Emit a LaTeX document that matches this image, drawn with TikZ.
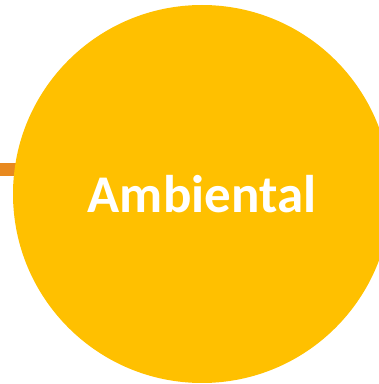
\documentclass[tikz,border=0pt]{standalone}
\usepackage{fontspec}
\setmainfont{Carlito}
\usetikzlibrary{positioning,backgrounds}
\definecolor{gold}{HTML}{FFC000}
\definecolor{darkorange}{HTML}{E8891F}

\begin{document}
\begin{tikzpicture}[x=1pt, y=1pt,
    bubble/.style={circle, fill=gold, minimum size=378pt, inner sep=0pt,
      text=white, font=\fontsize{53}{62}\selectfont\bfseries}]
  % Canvas
  \useasboundingbox (0,0) rectangle (379,384);

  % Main circle
  \node[bubble] (ambiental) at (202,190) {\raisebox{1pt}{Ambiental}};

  % Connector coming in from the left
  \coordinate (inlet) at (0,214.5);
  \begin{scope}[on background layer]
    \draw[darkorange, line width=13pt] (inlet) -- (inlet -| ambiental.center);
  \end{scope}
\end{tikzpicture}
\end{document}
